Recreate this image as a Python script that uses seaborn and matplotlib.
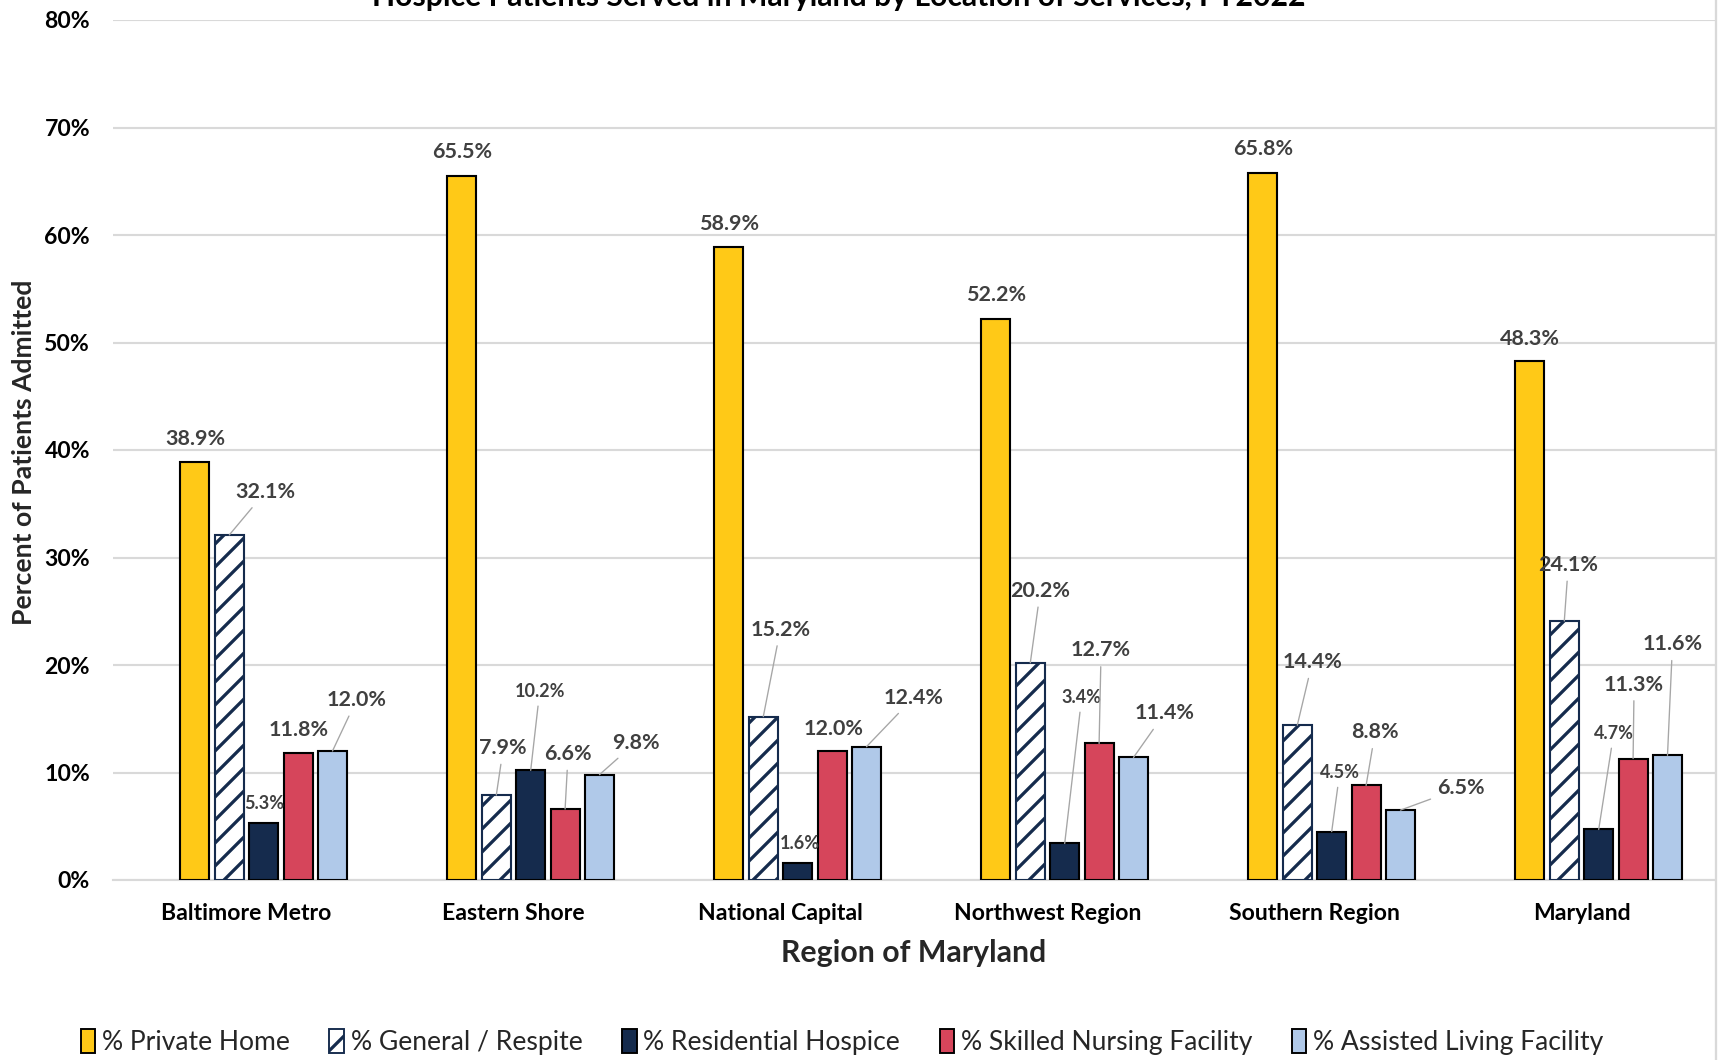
import matplotlib
matplotlib.use("Agg")
import matplotlib.pyplot as plt
from matplotlib.patches import Patch
from matplotlib.lines import Line2D
import seaborn as sns
import pandas as pd
import numpy as np

# ---- data (percent of patients admitted, FY2022) ----
regions = ["Baltimore Metro", "Eastern Shore", "National Capital",
           "Northwest Region", "Southern Region", "Maryland"]
series = ["% Private Home", "% General / Respite", "% Residential Hospice",
          "% Skilled Nursing Facility", "% Assisted Living Facility"]
private_home = [38.9, 65.5, 58.9, 52.2, 65.8, 48.3]
general_respite = [32.1, 7.9, 15.2, 20.2, 14.4, 24.1]
residential_hospice = [5.3, 10.2, 1.6, 3.4, 4.5, 4.7]
skilled_nursing = [11.8, 6.6, 12.0, 12.7, 8.8, 11.3]
assisted_living = [12.0, 9.8, 12.4, 11.4, 6.5, 11.6]

# where each data label sits relative to its bar top (pixels, up = +)
offsets_private = [(0, 23), (0, 24), (0, 23), (0, 24), (0, 24), (0, 22)]
offsets_general = [(36, 43), (7, 47), (17, 87), (10, 72), (15, 63), (4, 56)]
offsets_residential = [(1, 20), (9, 79), (2, 19), (17, 146), (8, 59), (15, 96)]
offsets_skilled = [(1, 23), (3, 55), (2, 22), (2, 93), (9, 53), (1, 74)]
offsets_assisted = [(24, 51), (36, 32), (47, 49), (31, 44), (60, 22), (5, 111)]

colors = ["#FFC917", "#FFFFFF", "#152B4D", "#D6455B", "#B0C9E9"]
navy = "#152B4D"

all_values = [private_home, general_respite, residential_hospice,
              skilled_nursing, assisted_living]
all_offsets = [offsets_private, offsets_general, offsets_residential,
               offsets_skilled, offsets_assisted]

rows = []
for name, vals in zip(series, all_values):
    for reg, v in zip(regions, vals):
        rows.append({"Region": reg, "Series": name, "Value": v})
df = pd.DataFrame(rows)

DPI = 138
sns.set_theme(style="white")
plt.rcParams["font.family"] = ["Lato", "DejaVu Sans"]
plt.rcParams["hatch.linewidth"] = 1.7

fig = plt.figure(figsize=(1725 / DPI, 1060 / DPI), dpi=DPI)
ax = fig.add_axes([113 / 1725, 1 - 880 / 1060, (1715 - 113) / 1725, (880 - 20) / 1060])

# the Excel chart keeps an empty first slot in each cluster
hue_order = [""] + series
palette = dict(zip(series, colors))
palette[""] = "#FFFFFF"

sns.barplot(data=df, x="Region", y="Value", hue="Series", order=regions,
            hue_order=hue_order, palette=palette, width=0.773, gap=0.16,
            errorbar=None, legend=False, saturation=1, ax=ax, zorder=3)


def find_series(cont):
    vals = np.asarray(cont.datavalues, dtype=float)
    for k, ref in enumerate(all_values):
        if len(vals) == len(ref) and np.allclose(vals, ref):
            return k
    return None


for cont in ax.containers:
    i = find_series(cont)
    if i is None:
        continue
    for bar in cont:
        bar.set_edgecolor("black")
        bar.set_linewidth(1.1)
        if i == 1:
            bar.set_hatch("//")
            bar.set_edgecolor(navy)
    small = (i == 2)
    for j, bar in enumerate(cont):
        dx, dy = all_offsets[i][j]
        leader = (dx ** 2 + dy ** 2) ** 0.5 > 30
        ax.annotate(f"{all_values[i][j]:.1f}%",
                    xy=(bar.get_x() + bar.get_width() / 2, bar.get_height()),
                    xytext=(dx, dy), textcoords="offset pixels",
                    ha="center", va="center", color="#404040",
                    fontsize=9.4 if small else 11.2, fontweight="bold",
                    arrowprops=dict(arrowstyle="-", color="#A6A6A6", lw=0.7,
                                    shrinkA=1, shrinkB=0) if leader else None,
                    zorder=5)

ax.set_ylim(0, 80)
ax.set_yticks(range(0, 81, 10))
ax.set_yticklabels([f"{t}%" for t in range(0, 81, 10)])
ax.yaxis.grid(True, color="#D9D9D9", lw=1.1)
ax.set_axisbelow(True)
ax.tick_params(axis="y", length=0, pad=12, labelsize=12, labelcolor="black")
ax.tick_params(axis="x", length=0, pad=12, labelsize=12, labelcolor="black")
for lab in ax.get_yticklabels() + ax.get_xticklabels():
    lab.set_fontweight("bold")
ax.set_xlabel("")
ax.set_ylabel("")
for s in ["top", "left", "right"]:
    ax.spines[s].set_visible(False)
ax.spines["bottom"].set_color("#D9D9D9")
ax.spines["bottom"].set_linewidth(1.1)

fig.text(839 / 1725, 1 - 6 / 1060,
         "Hospice Patients Served in Maryland by Location of Services, FY2022",
         ha="center", va="baseline", fontsize=15.7, fontweight="bold", color="black")
fig.text(24 / 1725, 1 - 452 / 1060, "Percent of Patients Admitted", rotation=90,
         ha="center", va="center", fontsize=13.8, fontweight="bold")
fig.text(914 / 1725, 1 - 953 / 1060, "Region of Maryland",
         ha="center", va="center", fontsize=15.8, fontweight="bold")

fig.add_artist(Line2D([1716 / 1725, 1716 / 1725], [0, 1], color="#D9D9D9",
                      lw=1.2, transform=fig.transFigure))

handles = []
for name, c in zip(series, colors):
    if name == "% General / Respite":
        handles.append(Patch(facecolor="white", edgecolor=navy, hatch="//",
                             lw=1.0, label=name))
    else:
        handles.append(Patch(facecolor=c, edgecolor="black", lw=1.0, label=name))
fig.legend(handles=handles, loc="center", bbox_to_anchor=(842 / 1725, 1 - 1042 / 1060),
           ncol=5, frameon=False, fontsize=13.8, handlelength=0.55, handleheight=1.0,
           handletextpad=0.25, columnspacing=1.5)

fig.savefig("out.png", dpi=DPI)
